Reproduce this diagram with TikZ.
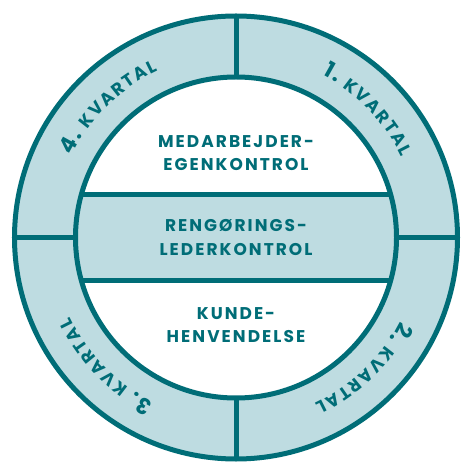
\documentclass[tikz,border=0pt]{standalone}
\usepackage{fontspec}
\setmainfont{Poppins}
\newfontfamily\popb[LetterSpace=12]{Poppins}
\usetikzlibrary{decorations.text}
\definecolor{ringdark}{RGB}{0,109,119}
\definecolor{ringlight}{RGB}{190,220,225}
\newcommand\numf{\fontsize{22}{22}\selectfont\bfseries}
\newcommand\kvf{\fontsize{17.5}{17.5}\selectfont\bfseries}
\tikzset{
  ringline/.style={line width=5pt, draw=ringdark},
  blocktext/.style={align=center, text=ringdark, font={\popb\bfseries\fontsize{17}{23.5}\selectfont}},
  kvlabel/.style={decorate, decoration={text along path, text={#1}, text align={fit to path}, text color=ringdark}}
}
\begin{document}
\begin{tikzpicture}[x=1pt,y=1pt]
\useasboundingbox (-236,-224.5) rectangle (224,237.5);
\def\Ro{221.5}
\def\Ri{160.5}
\def\Rt{184}
\fill[ringlight] (0,0) circle (\Ro);
\fill[white] (0,0) circle (\Ri);
\begin{scope}
  \clip (0,0) circle (\Ri);
  \fill[ringlight] (-\Ri,-43) rectangle (\Ri,43);
  \draw[ringline] (-\Ri,43) -- (\Ri,43) (-\Ri,-43) -- (\Ri,-43);
\end{scope}
\draw[ringline] (0,\Ri) -- (0,\Ro) (0,-\Ri) -- (0,-\Ro) (-\Ri,0) -- (-\Ro,0) (\Ri,0) -- (\Ro,0);
\draw[ringline] (0,0) circle (\Ro);
\draw[ringline] (0,0) circle (\Ri);
\node[blocktext] (egen) at (0,84.6) {MEDARBEJDER-\\EGENKONTROL};
\node[blocktext] (leder) at (0,0) {RENGØRINGS-\\LEDERKONTROL};
\node[blocktext] (kunde) at (0,-87.5) {KUNDE-\\HENVENDELSE};
\path[kvlabel={|\numf|1.|\kvf| KVARTAL}] (62:\Rt) arc[start angle=62, end angle=26, radius=\Rt];
\path[kvlabel={|\numf|2.|\kvf| KVARTAL}] (-27:\Rt) arc[start angle=-27, end angle=-64.5, radius=\Rt];
\path[kvlabel={|\numf|3.|\kvf| KVARTAL}] (-116.5:\Rt) arc[start angle=-116.5, end angle=-154.5, radius=\Rt];
\path[kvlabel={|\numf|4.|\kvf| KVARTAL}] (153.5:\Rt) arc[start angle=153.5, end angle=115, radius=\Rt];
\end{tikzpicture}
\end{document}
